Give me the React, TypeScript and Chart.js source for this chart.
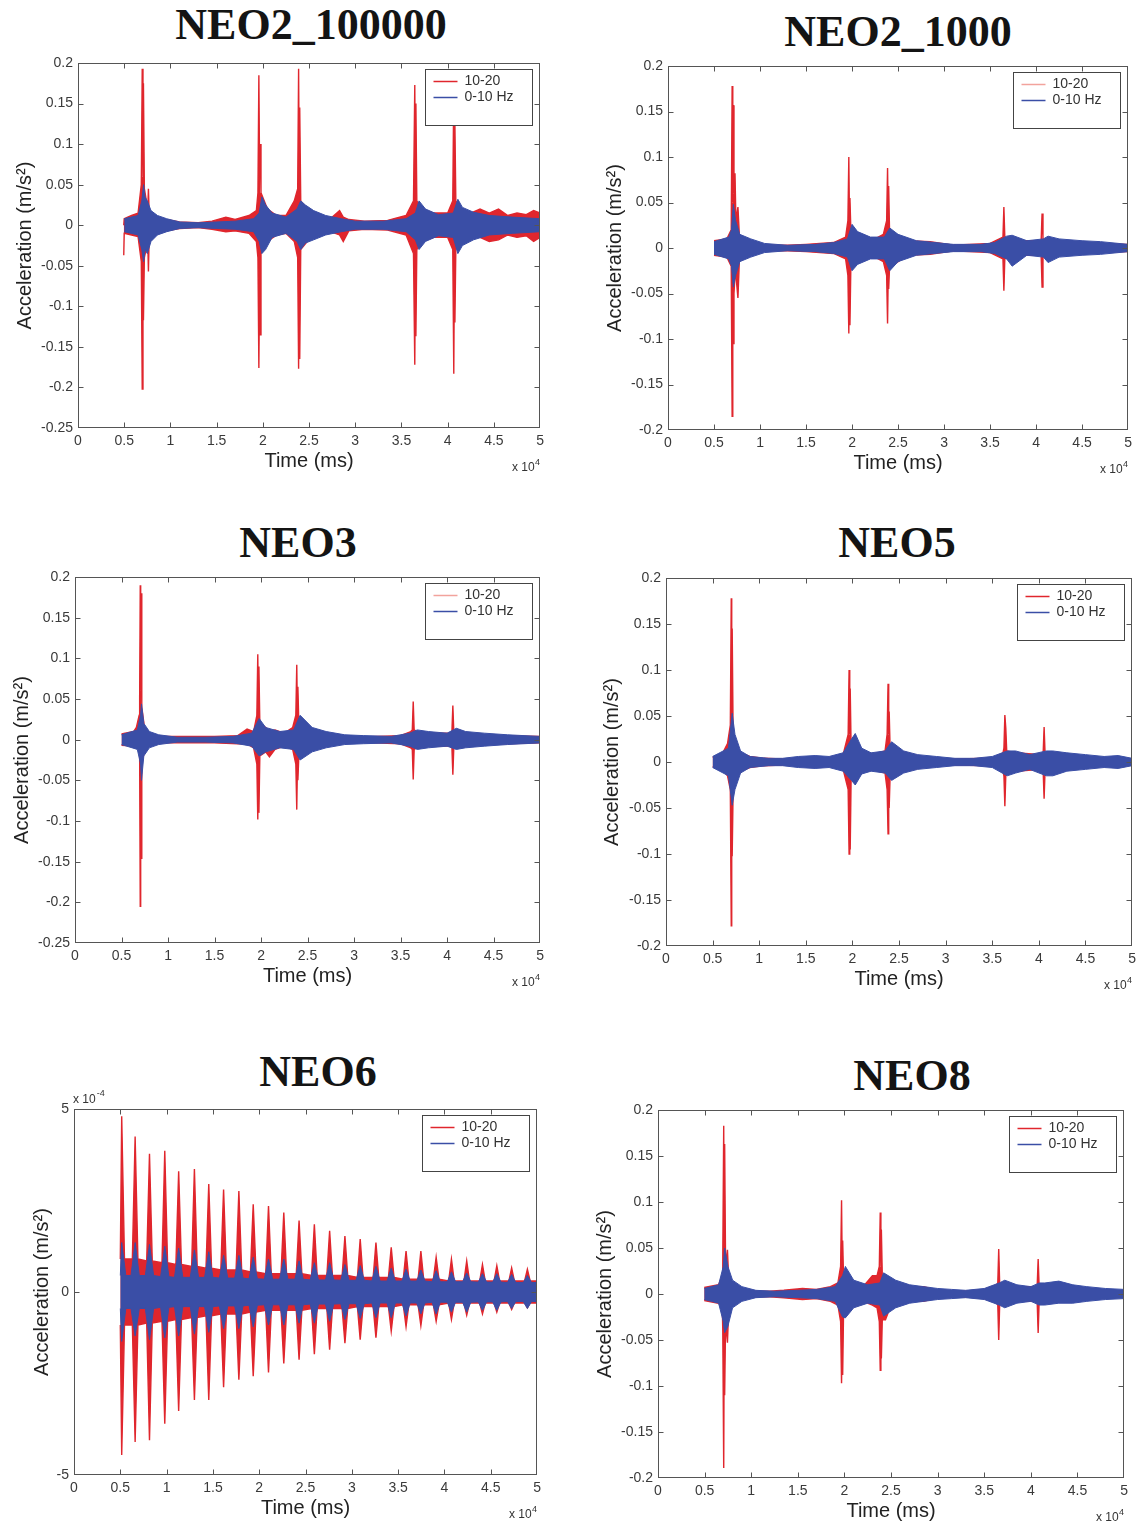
import React, { useEffect, useRef } from "react";
import { Chart, registerables } from "chart.js";
Chart.register(...registerables);

// [time (ms), upper envelope, lower envelope]
type Trip = [number, number, number];

const xTickValues = [0, 5000, 10000, 15000, 20000, 25000, 30000, 35000, 40000, 45000, 50000];
const yTicks025 = [-0.25, -0.2, -0.15, -0.1, -0.05, 0, 0.05, 0.1, 0.15, 0.2];
const yTicks020 = [-0.2, -0.15, -0.1, -0.05, 0, 0.05, 0.1, 0.15, 0.2];
const yTicksNeo6 = [-5, 0, 5]; // x 10^-4
const legendLabels = ["10-20", "0-10 Hz"];
const xAxisTitle = "Time (ms)";
const yAxisTitle = "Acceleration (m/s\u00B2)";

// ---------- NEO2_100000 ----------
const neo2a_red: Trip[] = [
  [4950, 0, -0.037], [5000, 0.008, -0.01], [5800, 0.012, -0.012], [6500, 0.015, -0.014],
  [6850, 0.05, -0.045], [6950, 0.193, -0.202], [7030, 0.06, -0.05], [7080, 0.175, -0.117],
  [7180, 0.045, -0.04], [7550, 0.02, -0.02], [7620, 0.045, -0.057], [7700, 0.015, -0.015],
  [8500, 0.01, -0.01], [9500, 0.007, -0.007], [11000, 0.004, -0.004], [13000, 0.003, -0.003],
  [14500, 0.005, -0.005], [16000, 0.01, -0.008], [17000, 0.007, -0.007], [18500, 0.012, -0.01],
  [19300, 0.018, -0.02], [19470, 0.04, -0.04], [19570, 0.185, -0.176], [19650, 0.06, -0.06],
  [19700, 0.1, -0.135], [19800, 0.04, -0.035], [20500, 0.02, -0.02], [21500, 0.012, -0.012],
  [22500, 0.012, -0.01], [23400, 0.03, -0.02], [23770, 0.045, -0.04], [23870, 0.193, -0.177],
  [23940, 0.05, -0.05], [23990, 0.145, -0.165], [24100, 0.03, -0.03], [24800, 0.02, -0.02],
  [26000, 0.012, -0.012], [27300, 0.008, -0.008], [28300, 0.018, -0.012], [28700, 0.01, -0.02],
  [29300, 0.007, -0.007], [31000, 0.005, -0.005], [33500, 0.006, -0.006], [35500, 0.012, -0.012],
  [36300, 0.03, -0.035], [36440, 0.173, -0.172], [36510, 0.04, -0.04], [36560, 0.15, -0.137],
  [36660, 0.03, -0.03], [37200, 0.02, -0.02], [38500, 0.015, -0.015], [40000, 0.015, -0.015],
  [40550, 0.03, -0.03], [40660, 0.17, -0.183], [40730, 0.04, -0.04], [40780, 0.125, -0.12],
  [40880, 0.03, -0.03], [41500, 0.02, -0.02], [42500, 0.015, -0.015], [43500, 0.02, -0.015],
  [44500, 0.015, -0.02], [45500, 0.02, -0.018], [46500, 0.012, -0.012], [47500, 0.015, -0.015],
  [48500, 0.013, -0.013], [49300, 0.018, -0.02], [50000, 0.015, -0.015],
];
const neo2a_blue: Trip[] = [
  [5000, 0.008, -0.008], [6500, 0.012, -0.012], [6900, 0.03, -0.03], [7100, 0.05, -0.045],
  [7250, 0.035, -0.03], [7500, 0.03, -0.035], [7900, 0.018, -0.02], [8600, 0.012, -0.012],
  [9600, 0.008, -0.008], [11000, 0.004, -0.004], [13000, 0.003, -0.003], [15000, 0.004, -0.004],
  [17000, 0.005, -0.005], [19000, 0.008, -0.008], [19600, 0.015, -0.02], [19900, 0.035, -0.035],
  [20300, 0.025, -0.03], [21000, 0.015, -0.015], [22500, 0.01, -0.01], [23700, 0.02, -0.02],
  [24100, 0.03, -0.03], [24600, 0.025, -0.022], [25500, 0.018, -0.018], [26800, 0.012, -0.012],
  [28500, 0.008, -0.008], [30000, 0.005, -0.005], [33000, 0.005, -0.005], [35500, 0.008, -0.008],
  [36500, 0.015, -0.018], [36900, 0.03, -0.03], [37600, 0.02, -0.02], [39000, 0.013, -0.013],
  [40600, 0.015, -0.015], [41100, 0.032, -0.035], [41600, 0.022, -0.025], [42800, 0.016, -0.018],
  [44500, 0.012, -0.012], [47000, 0.01, -0.01], [50000, 0.008, -0.008],
];

// ---------- NEO2_1000 ----------
const neo2b_red: Trip[] = [
  [5000, 0.008, -0.008], [6400, 0.01, -0.01], [6870, 0.02, -0.02], [6970, 0.178, -0.185],
  [7040, 0.05, -0.04], [7090, 0.157, -0.105], [7170, 0.06, -0.05], [7280, 0.082, -0.03],
  [7380, 0.03, -0.03], [7600, 0.045, -0.055], [7750, 0.015, -0.015], [8500, 0.006, -0.006],
  [10000, 0.003, -0.003], [13000, 0.003, -0.003], [15000, 0.004, -0.004], [18000, 0.006, -0.006],
  [19300, 0.012, -0.012], [19550, 0.03, -0.03], [19650, 0.1, -0.094], [19720, 0.03, -0.03],
  [19770, 0.055, -0.085], [19870, 0.02, -0.02], [20800, 0.012, -0.012], [22500, 0.01, -0.01],
  [23400, 0.015, -0.015], [23760, 0.03, -0.03], [23860, 0.088, -0.083], [23930, 0.03, -0.03],
  [23980, 0.068, -0.045], [24080, 0.015, -0.02], [24600, 0.012, -0.018], [26000, 0.008, -0.008],
  [28500, 0.007, -0.007], [31000, 0.003, -0.003], [35000, 0.005, -0.005], [36400, 0.012, -0.012],
  [36500, 0.045, -0.047], [36600, 0.012, -0.012], [37500, 0.008, -0.008], [40550, 0.008, -0.008],
  [40650, 0.038, -0.043], [40750, 0.01, -0.01], [42000, 0.006, -0.006], [46000, 0.005, -0.005],
  [50000, 0.004, -0.004],
];
const neo2b_blue: Trip[] = [
  [5000, 0.007, -0.007], [6600, 0.012, -0.012], [6900, 0.02, -0.02], [7100, 0.048, -0.043],
  [7350, 0.03, -0.03], [7800, 0.015, -0.015], [9000, 0.01, -0.01], [10500, 0.005, -0.005],
  [13000, 0.003, -0.003], [16000, 0.004, -0.004], [18000, 0.006, -0.006], [19500, 0.01, -0.01],
  [20000, 0.026, -0.025], [20600, 0.018, -0.018], [22000, 0.012, -0.012], [23500, 0.012, -0.012],
  [24100, 0.022, -0.025], [25000, 0.015, -0.015], [27000, 0.008, -0.008], [29000, 0.006, -0.006],
  [31000, 0.004, -0.004], [34000, 0.004, -0.004], [35500, 0.006, -0.006], [36800, 0.013, -0.012],
  [37400, 0.014, -0.02], [39000, 0.008, -0.008], [40800, 0.01, -0.01], [41300, 0.013, -0.016],
  [42500, 0.01, -0.01], [45000, 0.008, -0.008], [47000, 0.007, -0.007], [50000, 0.004, -0.004],
];

// ---------- NEO3 ----------
const neo3_red: Trip[] = [
  [5000, 0.007, -0.007], [6300, 0.01, -0.008], [6600, 0.015, -0.01], [6900, 0.03, -0.012],
  [6950, 0.05, -0.02], [7015, 0.19, -0.205], [7060, 0.06, -0.05], [7100, 0.18, -0.146],
  [7180, 0.04, -0.03], [7500, 0.012, -0.012], [8200, 0.006, -0.006], [9500, 0.004, -0.004],
  [12000, 0.004, -0.004], [15000, 0.004, -0.004], [17500, 0.005, -0.005], [18500, 0.013, -0.005],
  [19200, 0.01, -0.01], [19550, 0.03, -0.03], [19650, 0.105, -0.098], [19720, 0.03, -0.03],
  [19770, 0.09, -0.09], [19870, 0.02, -0.02], [20500, 0.015, -0.015], [20900, 0.01, -0.021],
  [21500, 0.012, -0.012], [22500, 0.008, -0.008], [23400, 0.015, -0.012], [23740, 0.03, -0.03],
  [23840, 0.092, -0.086], [23910, 0.03, -0.03], [23960, 0.065, -0.05], [24060, 0.02, -0.02],
  [25000, 0.01, -0.01], [27000, 0.005, -0.005], [30000, 0.003, -0.003], [35000, 0.005, -0.005],
  [36100, 0.01, -0.01], [36260, 0.012, -0.012], [36360, 0.047, -0.049], [36460, 0.012, -0.012],
  [37000, 0.008, -0.008], [40300, 0.008, -0.008], [40520, 0.01, -0.01], [40620, 0.042, -0.043],
  [40720, 0.01, -0.01], [43000, 0.006, -0.006], [46000, 0.005, -0.005], [50000, 0.004, -0.004],
];
const neo3_blue: Trip[] = [
  [5000, 0.006, -0.006], [6700, 0.012, -0.012], [7050, 0.03, -0.03], [7150, 0.044, -0.05],
  [7400, 0.02, -0.02], [8000, 0.01, -0.01], [9000, 0.006, -0.006], [11000, 0.003, -0.003],
  [14000, 0.003, -0.003], [17000, 0.004, -0.004], [19000, 0.008, -0.008], [19800, 0.026, -0.02],
  [20500, 0.015, -0.015], [22000, 0.01, -0.01], [23500, 0.012, -0.012], [24200, 0.03, -0.025],
  [25500, 0.015, -0.015], [27000, 0.01, -0.01], [29000, 0.006, -0.006], [31000, 0.005, -0.005],
  [34000, 0.004, -0.004], [36000, 0.008, -0.008], [36800, 0.012, -0.012], [38000, 0.01, -0.01],
  [40000, 0.008, -0.008], [41000, 0.014, -0.012], [42000, 0.01, -0.01], [44000, 0.008, -0.008],
  [46500, 0.006, -0.006], [50000, 0.004, -0.004],
];

// ---------- NEO5 ----------
const neo5_red: Trip[] = [
  [5000, 0.005, -0.005], [6000, 0.008, -0.008], [6600, 0.02, -0.015], [6900, 0.04, -0.03],
  [7000, 0.178, -0.178], [7050, 0.05, -0.04], [7100, 0.145, -0.1025], [7200, 0.03, -0.03],
  [7500, 0.018, -0.02], [8000, 0.01, -0.01], [9000, 0.006, -0.006], [10500, 0.004, -0.004],
  [13000, 0.003, -0.003], [15000, 0.004, -0.004], [17000, 0.004, -0.004], [19000, 0.008, -0.008],
  [19540, 0.03, -0.03], [19640, 0.1, -0.1], [19710, 0.03, -0.03], [19760, 0.08, -0.095],
  [19860, 0.015, -0.015], [20500, 0.012, -0.012], [22000, 0.008, -0.008], [23500, 0.012, -0.012],
  [23720, 0.03, -0.03], [23820, 0.085, -0.078], [23890, 0.03, -0.03], [23940, 0.055, -0.05],
  [24040, 0.015, -0.015], [25000, 0.012, -0.012], [26500, 0.008, -0.008], [28000, 0.005, -0.005],
  [30000, 0.003, -0.003], [35000, 0.004, -0.004], [36150, 0.01, -0.01], [36250, 0.015, -0.015],
  [36350, 0.051, -0.048], [36450, 0.037, -0.015], [36550, 0.012, -0.012], [37500, 0.01, -0.01],
  [40300, 0.008, -0.008], [40460, 0.01, -0.01], [40560, 0.038, -0.04], [40660, 0.01, -0.01],
  [43000, 0.005, -0.005], [50000, 0.003, -0.003],
];
const neo5_blue: Trip[] = [
  [5000, 0.006, -0.006], [6700, 0.015, -0.015], [7100, 0.053, -0.047], [7400, 0.03, -0.03],
  [8000, 0.012, -0.012], [9000, 0.006, -0.006], [11000, 0.004, -0.004], [12500, 0.004, -0.004],
  [14200, 0.006, -0.006], [16000, 0.007, -0.007], [17500, 0.006, -0.006], [19000, 0.01, -0.01],
  [19900, 0.025, -0.02], [20300, 0.031, -0.025], [21000, 0.015, -0.013], [22000, 0.01, -0.01],
  [23500, 0.012, -0.012], [24200, 0.022, -0.02], [25500, 0.012, -0.012], [27000, 0.008, -0.008],
  [29000, 0.006, -0.006], [31000, 0.004, -0.004], [33000, 0.004, -0.004], [35000, 0.006, -0.006],
  [36600, 0.012, -0.015], [37500, 0.012, -0.012], [39000, 0.008, -0.008], [40800, 0.012, -0.015],
  [41500, 0.012, -0.015], [43000, 0.01, -0.01], [45000, 0.008, -0.008], [47000, 0.006, -0.006],
  [48500, 0.007, -0.007], [50000, 0.004, -0.004],
];

// ---------- NEO6 (values in units of 10^-4 m/s^2) ----------
const neo6PulseT = [5150, 6600, 8150, 9800, 11300, 13000, 14550, 16150, 17800, 19350, 21000, 22650, 24300, 25950,
  27600, 29250, 30900, 32600, 34250, 35850, 37450, 39100, 40750, 42400, 44100, 45650, 47250, 48950];
const neo6RedHi = [4.8, 4.25, 3.78, 3.86, 3.3, 3.36, 2.95, 2.8, 2.76, 2.4, 2.35, 2.17, 1.95, 1.85,
  1.67, 1.53, 1.45, 1.35, 1.22, 1.12, 1.12, 0.95, 0.9, 0.85, 0.75, 0.72, 0.66, 0.62];
const neo6RedLo = [-4.45, -4.1, -4.05, -3.6, -3.25, -2.95, -2.95, -2.6, -2.4, -2.3, -2.2, -1.95, -1.85, -1.7,
  -1.58, -1.4, -1.3, -1.25, -1.07, -0.95, -0.92, -0.8, -0.75, -0.63, -0.6, -0.55, -0.48, -0.43];
const neo6RedGap = [0.9, 0.9, 0.85, 0.8, 0.75, 0.7, 0.65, 0.6, 0.6, 0.55, 0.5, 0.5, 0.5, 0.45,
  0.45, 0.45, 0.4, 0.4, 0.4, 0.35, 0.35, 0.35, 0.3, 0.3, 0.3, 0.3, 0.3, 0.3];
const neo6BlueHi = [1.35, 1.35, 1.3, 1.25, 1.2, 1.15, 1.1, 1.0, 1.0, 0.95, 0.9, 0.9, 0.85, 0.8,
  0.8, 0.75, 0.72, 0.7, 0.65, 0.62, 0.6, 0.58, 0.55, 0.52, 0.5, 0.5, 0.48, 0.45];
const neo6BlueLo = [-1.35, -1.2, -1.3, -1.25, -1.2, -1.15, -1.1, -1.0, -1.0, -0.95, -0.9, -0.9, -0.85, -0.85,
  -0.8, -0.75, -0.72, -0.7, -0.7, -0.65, -0.6, -0.6, -0.55, -0.55, -0.5, -0.5, -0.45, -0.45];
const neo6BlueGap = [0.45, 0.45, 0.45, 0.42, 0.4, 0.4, 0.4, 0.38, 0.38, 0.36, 0.35, 0.35, 0.35, 0.33,
  0.33, 0.32, 0.32, 0.3, 0.3, 0.3, 0.3, 0.28, 0.28, 0.28, 0.27, 0.27, 0.26, 0.26];

// ---------- NEO8 ----------
const neo8_red: Trip[] = [
  [4960, 0.007, -0.007], [6500, 0.01, -0.01], [6900, 0.02, -0.015], [6950, 0.04, -0.04],
  [7050, 0.183, -0.189], [7100, 0.05, -0.04], [7150, 0.163, -0.11], [7250, 0.03, -0.03],
  [7450, 0.048, -0.053], [7600, 0.012, -0.012], [8500, 0.006, -0.006], [10000, 0.003, -0.003],
  [12000, 0.003, -0.003], [13500, 0.004, -0.004], [15500, 0.006, -0.006], [17000, 0.005, -0.005],
  [18500, 0.008, -0.008], [19300, 0.012, -0.012], [19590, 0.03, -0.03], [19690, 0.102, -0.097],
  [19760, 0.03, -0.03], [19810, 0.058, -0.088], [19910, 0.015, -0.015], [20500, 0.012, -0.012],
  [22000, 0.008, -0.008], [23000, 0.02, -0.012], [23500, 0.02, -0.015], [23740, 0.03, -0.03],
  [23840, 0.0886, -0.083], [23910, 0.03, -0.03], [23960, 0.07, -0.07], [24060, 0.02, -0.028],
  [24400, 0.015, -0.028], [25000, 0.012, -0.012], [26500, 0.008, -0.008], [28500, 0.008, -0.008],
  [30000, 0.004, -0.004], [33000, 0.003, -0.003], [35000, 0.005, -0.005], [36300, 0.01, -0.01],
  [36450, 0.012, -0.012], [36550, 0.0488, -0.05], [36650, 0.012, -0.012], [37500, 0.008, -0.008],
  [40500, 0.008, -0.008], [40680, 0.01, -0.01], [40780, 0.038, -0.0425], [40880, 0.01, -0.01],
  [43000, 0.005, -0.005], [46000, 0.004, -0.004], [50000, 0.003, -0.003],
];
const neo8_blue: Trip[] = [
  [4960, 0.006, -0.006], [6500, 0.01, -0.01], [7000, 0.03, -0.03], [7150, 0.05, -0.042],
  [7500, 0.03, -0.035], [8000, 0.015, -0.015], [9000, 0.008, -0.008], [10500, 0.004, -0.004],
  [12500, 0.003, -0.003], [15000, 0.004, -0.004], [17000, 0.005, -0.005], [19000, 0.008, -0.008],
  [19800, 0.02, -0.025], [20100, 0.03, -0.026], [21000, 0.015, -0.015], [22500, 0.01, -0.01],
  [23800, 0.012, -0.012], [24200, 0.023, -0.024], [25500, 0.015, -0.015], [27000, 0.01, -0.01],
  [28500, 0.008, -0.008], [30000, 0.006, -0.006], [31500, 0.005, -0.005], [33000, 0.004, -0.004],
  [35000, 0.006, -0.006], [36600, 0.012, -0.012], [37200, 0.015, -0.015], [38500, 0.01, -0.01],
  [40000, 0.008, -0.008], [40900, 0.012, -0.012], [41500, 0.012, -0.012], [43000, 0.014, -0.01],
  [44500, 0.01, -0.01], [46000, 0.008, -0.008], [48000, 0.006, -0.006], [50000, 0.005, -0.005],
];

function pulseTrain(ts: number[], hi: number[], lo: number[], gap: number[], half: number): Trip[] {
  const out: Trip[] = [];
  ts.forEach((t, i) => {
    out.push([Math.max(t - half, 5000), gap[i], -gap[i]]);
    out.push([t, hi[i], lo[i]]);
    out.push([t + half, gap[i], -gap[i]]);
  });
  out.push([50000, gap[gap.length - 1], -gap[gap.length - 1]]);
  return out;
}

const RED = "#e0262d";
const BLUE = "#3a4ea6";
const PALE_RED = "#f2a39c";
const SANS = "'Liberation Sans', Arial, Helvetica, sans-serif";

interface PanelCfg {
  title: string;
  titleX: number;
  titleY: number;
  plot: [number, number, number, number];
  yMin: number;
  yMax: number;
  yTicks: number[];
  red: Trip[];
  blue: Trip[];
  yw: number;
  legendRed: string;
  neo6?: boolean;
}

const panels: PanelCfg[] = [
  { title: "NEO2_100000", titleX: 311, titleY: 25, plot: [78, 63, 543, 428], yMin: -0.25, yMax: 0.2, yTicks: yTicks025, red: neo2a_red, blue: neo2a_blue, yw: 65, legendRed: RED },
  { title: "NEO2_1000", titleX: 898, titleY: 32, plot: [668, 66, 1131, 430], yMin: -0.2, yMax: 0.2, yTicks: yTicks020, red: neo2b_red, blue: neo2b_blue, yw: 65, legendRed: PALE_RED },
  { title: "NEO3", titleX: 298, titleY: 543, plot: [75, 577, 543, 943], yMin: -0.25, yMax: 0.2, yTicks: yTicks025, red: neo3_red, blue: neo3_blue, yw: 65, legendRed: PALE_RED },
  { title: "NEO5", titleX: 897, titleY: 543, plot: [666, 578, 1135, 946], yMin: -0.2, yMax: 0.2, yTicks: yTicks020, red: neo5_red, blue: neo5_blue, yw: 66, legendRed: RED },
  { title: "NEO6", titleX: 318, titleY: 1072, plot: [74, 1109, 540, 1475], yMin: -5, yMax: 5, yTicks: yTicksNeo6,
    red: pulseTrain(neo6PulseT, neo6RedHi, neo6RedLo, neo6RedGap, 300),
    blue: pulseTrain(neo6PulseT, neo6BlueHi, neo6BlueLo, neo6BlueGap, 450), yw: 44, legendRed: RED, neo6: true },
  { title: "NEO8", titleX: 912, titleY: 1076, plot: [658, 1110, 1127, 1478], yMin: -0.2, yMax: 0.2, yTicks: yTicks020, red: neo8_red, blue: neo8_blue, yw: 65, legendRed: RED },
];

const PT = 24;
const PR = 6;
const XH = 48;

function Panel({ cfg }: { cfg: PanelCfg }) {
  const ref = useRef<HTMLCanvasElement | null>(null);
  const [l, t, r, b] = cfg.plot;
  const w = cfg.yw + (r - l) + PR;
  const h = PT + (b - t) + XH;

  useEffect(() => {
    if (!ref.current) return;
    const pts = (arr: Trip[], k: number) => arr.map((p) => ({ x: p[0], y: p[k] }));
    const ds = (data: any[], color: string, fill: any, bw: number) => ({
      data, borderColor: color, backgroundColor: color, borderWidth: bw, pointRadius: 0, tension: 0, fill,
    });

    const overlay = {
      id: "matlabOverlay",
      afterDatasetsDraw(chart: any) {
        const { ctx, chartArea: a, scales } = chart;
        ctx.save();
        // frame
        ctx.strokeStyle = "#555";
        ctx.lineWidth = 1;
        const L = Math.round(a.left) + 0.5, R = Math.round(a.right) - 0.5;
        const T = Math.round(a.top) + 0.5, B = Math.round(a.bottom) - 0.5;
        ctx.strokeRect(L, T, R - L, B - T);
        ctx.beginPath();
        xTickValues.slice(1, -1).forEach((v) => {
          const px = Math.round(scales.x.getPixelForValue(v)) + 0.5;
          ctx.moveTo(px, B); ctx.lineTo(px, B - 5);
          ctx.moveTo(px, T); ctx.lineTo(px, T + 5);
        });
        cfg.yTicks.slice(1, -1).forEach((v) => {
          const py = Math.round(scales.y.getPixelForValue(v)) + 0.5;
          ctx.moveTo(L, py); ctx.lineTo(L + 5, py);
          ctx.moveTo(R, py); ctx.lineTo(R - 5, py);
        });
        ctx.stroke();
        // legend
        const bx = Math.round(a.right - 115) + 0.5;
        const by = Math.round(a.top + 6) + 0.5;
        const bw = 107, bh = 56;
        ctx.fillStyle = "#fff";
        ctx.fillRect(bx, by, bw, bh);
        ctx.strokeStyle = "#444";
        ctx.strokeRect(bx, by, bw, bh);
        const rows = [cfg.legendRed, BLUE];
        ctx.font = `14px ${SANS}`;
        ctx.textBaseline = "middle";
        ctx.textAlign = "left";
        rows.forEach((c, i) => {
          const yy = by + 12 + i * 16;
          ctx.strokeStyle = c;
          ctx.lineWidth = 1.5;
          ctx.beginPath();
          ctx.moveTo(bx + 8, yy); ctx.lineTo(bx + 32, yy);
          ctx.stroke();
          ctx.fillStyle = "#333";
          ctx.fillText(legendLabels[i], bx + 39, yy);
        });
        // exponent labels
        ctx.fillStyle = "#333";
        ctx.textBaseline = "alphabetic";
        if (cfg.neo6) {
          ctx.font = `12px ${SANS}`;
          ctx.textAlign = "left";
          const base = "x 10";
          ctx.fillText(base, a.left - 1, a.top - 6);
          const bwid = ctx.measureText(base).width;
          ctx.font = `9px ${SANS}`;
          ctx.fillText("-4", a.left - 1 + bwid + 1, a.top - 13);
        }
        ctx.font = `9px ${SANS}`;
        ctx.textAlign = "right";
        ctx.fillText("4", a.right, a.bottom + 37);
        const sw = ctx.measureText("4").width;
        ctx.font = `12px ${SANS}`;
        ctx.fillText("x 10", a.right - sw - 0.5, a.bottom + 43);
        ctx.restore();
      },
    };

    const yFmt = (v: number) => (cfg.neo6 ? String(Math.round(v)) : String(parseFloat(v.toFixed(2))));

    const chart = new Chart(ref.current, {
      type: "line",
      data: {
        datasets: [
          ds(pts(cfg.blue, 1), BLUE, false, 1),
          ds(pts(cfg.blue, 2), BLUE, "-1", 1),
          ds(pts(cfg.red, 1), RED, false, 1.4),
          ds(pts(cfg.red, 2), RED, "-1", 1.4),
        ] as any,
      },
      options: {
        animation: false,
        responsive: false,
        events: [],
        layout: { padding: { left: 0, top: PT, right: PR, bottom: 0 } },
        plugins: { legend: { display: false }, tooltip: { enabled: false }, title: { display: false } },
        scales: {
          x: {
            type: "linear",
            min: 0,
            max: 50000,
            grid: { display: false, drawTicks: false },
            border: { display: false },
            afterBuildTicks: (s: any) => { s.ticks = xTickValues.map((v) => ({ value: v })); },
            afterFit: (s: any) => { s.height = XH; },
            ticks: {
              autoSkip: false, maxRotation: 0, padding: 5, color: "#3a3a3a",
              font: { family: SANS, size: 14 },
              callback: (v: any) => String(Number(v) / 10000),
            },
            title: {
              display: true, text: xAxisTitle, color: "#222",
              font: { family: SANS, size: 20 }, padding: { top: 0, bottom: 3 },
            },
          },
          y: {
            type: "linear",
            min: cfg.yMin,
            max: cfg.yMax,
            grid: { display: false, drawTicks: false },
            border: { display: false },
            afterBuildTicks: (s: any) => { s.ticks = cfg.yTicks.map((v) => ({ value: v })); },
            afterFit: (s: any) => { s.width = cfg.yw; },
            ticks: {
              autoSkip: false, padding: 5, color: "#3a3a3a",
              font: { family: SANS, size: 14 },
              callback: (v: any) => yFmt(Number(v)),
            },
            title: {
              display: true, text: yAxisTitle, color: "#222",
              font: { family: SANS, size: 20 }, padding: { top: 0, bottom: 0 },
            },
          },
        },
      } as any,
      plugins: [overlay],
    });
    return () => chart.destroy();
  }, []);

  return (
    <>
      <div
        style={{
          position: "absolute",
          left: cfg.titleX - 300,
          top: cfg.titleY - 22,
          width: 600,
          textAlign: "center",
          fontFamily: "'Liberation Serif', 'Times New Roman', serif",
          fontWeight: "bold",
          fontSize: 44,
          lineHeight: "44px",
          color: "#141414",
          whiteSpace: "nowrap",
        }}
      >
        {cfg.title}
      </div>
      <canvas
        ref={ref}
        width={w}
        height={h}
        style={{ position: "absolute", left: l - cfg.yw, top: t - PT, width: w, height: h }}
      />
    </>
  );
}

export default function App() {
  return (
    <div
      style={{
        position: "absolute",
        left: 0,
        top: 0,
        width: 1141,
        height: 1528,
        background: "#fff",
        overflow: "hidden",
      }}
    >
      {panels.map((p) => (
        <Panel key={p.title} cfg={p} />
      ))}
    </div>
  );
}
